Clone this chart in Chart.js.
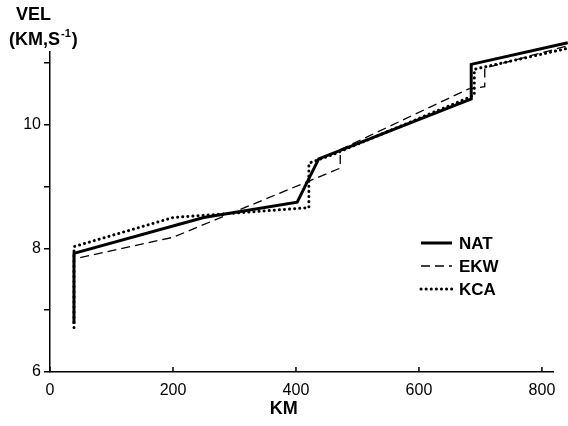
<!DOCTYPE html>
<html>
<head>
<meta charset="utf-8">
<script src="https://cdn.jsdelivr.net/npm/chart.js@4/dist/chart.umd.min.js"></script>
<style>
  html, body { margin: 0; padding: 0; background: #fff; }
  #wrap { width: 568px; height: 426px; }
</style>
</head>
<body>
<div id="wrap"><canvas id="velChart" width="568" height="426"></canvas></div>
<script>
// distance (km) and velocity (km/s)
const natKm  = [39, 39, 250, 402, 437, 685, 685, 842];
const natVel = [6.78, 7.92, 8.5, 8.75, 9.45, 10.42, 10.98, 11.33];
const ekwKm  = [39, 39, 200, 472, 472, 680, 707, 707, 842];
const ekwVel = [6.8, 7.83, 8.18, 9.3, 9.6, 10.58, 10.62, 10.92, 11.28];
const kcaKm  = [39, 39, 200, 421, 421, 460, 690, 690, 842];
const kcaVel = [6.72, 8.03, 8.5, 8.66, 9.38, 9.52, 10.48, 10.9, 11.24];
const xTicks = [0, 200, 400, 600, 800];
const yTicks = [6, 7, 8, 9, 10, 11];
const yLabelled = [6, 8, 10];

const toPts = (xs, ys) => xs.map((x, i) => ({ x: x, y: ys[i] }));

const series = [
  { label: "NAT", data: toPts(natKm, natVel), width: 3, dash: [], cap: "butt" },
  { label: "EKW", data: toPts(ekwKm, ekwVel), width: 1.3, dash: [9, 5], cap: "butt" },
  { label: "KCA", data: toPts(kcaKm, kcaVel), width: 3, dash: [0.1, 5], cap: "round" }
];

const textFont = "'Liberation Sans Narrow', 'Liberation Sans', Arial, sans-serif";

const extras = {
  id: "extras",
  afterDraw(chart) {
    const ctx = chart.ctx;
    const xs = chart.scales.x, ys = chart.scales.y;
    ctx.save();
    // x tick marks point up into the plot
    ctx.strokeStyle = "#000";
    ctx.lineWidth = 1.5;
    xTicks.forEach(v => {
      const px = xs.getPixelForValue(v);
      ctx.beginPath();
      ctx.moveTo(px, ys.bottom);
      ctx.lineTo(px, ys.bottom - 5);
      ctx.stroke();
    });

    // axis titles
    ctx.fillStyle = "#000";
    ctx.font = "bold 18px " + textFont;
    ctx.textAlign = "left";
    ctx.textBaseline = "middle";
    ctx.fillText("VEL", 16, 15);
    let x = 9;
    ctx.fillText("(KM,S", x, 40);
    x += ctx.measureText("(KM,S").width + 1;
    ctx.font = "bold 11px " + textFont;
    ctx.fillText("-1", x, 34);
    x += ctx.measureText("-1").width + 1;
    ctx.font = "bold 18px " + textFont;
    ctx.fillText(")", x, 40);

    ctx.textAlign = "center";
    ctx.fillText("KM", xs.getPixelForValue(380), 409);

    // legend
    const rows = [243, 266, 289];
    series.forEach((s, i) => {
      const y = rows[i];
      ctx.beginPath();
      ctx.lineWidth = s.width;
      ctx.setLineDash(s.dash);
      ctx.lineCap = s.cap;
      ctx.moveTo(421, y);
      ctx.lineTo(452, y);
      ctx.stroke();
      ctx.setLineDash([]);
      ctx.lineCap = "butt";
      ctx.font = "bold 17px " + textFont;
      ctx.textAlign = "left";
      ctx.fillText(s.label, 459, y + 1);
    });
    ctx.restore();
  }
};

const ctx = document.getElementById("velChart").getContext("2d");
new Chart(ctx, {
  type: "line",
  data: {
    datasets: series.map(s => ({
      label: s.label,
      data: s.data,
      borderColor: "#000",
      backgroundColor: "#000",
      borderWidth: s.width,
      borderDash: s.dash,
      borderCapStyle: s.cap,
      borderJoinStyle: "miter",
      pointRadius: 0,
      tension: 0,
      fill: false,
      clip: false
    })).reverse()
  },
  options: {
    responsive: false,
    animation: false,
    layout: { padding: { top: 52, right: 15, left: 0, bottom: 0 } },
    plugins: {
      legend: { display: false },
      tooltip: { enabled: false }
    },
    scales: {
      x: {
        type: "linear",
        min: 0,
        max: 818,
        afterBuildTicks: s => { s.ticks = xTicks.map(v => ({ value: v })); },
        afterFit: s => { s.height = 54; },
        grid: { display: false, drawTicks: false, tickLength: 0 },
        border: { color: "#000", width: 1.5 },
        ticks: {
          padding: 9,
          color: "#000",
          font: { family: "'Liberation Sans', Arial, sans-serif", size: 16 },
          maxRotation: 0
        }
      },
      y: {
        type: "linear",
        min: 6,
        max: 11.18,
        afterBuildTicks: s => { s.ticks = yTicks.map(v => ({ value: v })); },
        afterFit: s => { s.width = 50; },
        grid: { drawOnChartArea: false, drawTicks: true, tickLength: 6, color: "#000", lineWidth: 1.5 },
        border: { color: "#000", width: 1.5 },
        ticks: {
          padding: 3,
          color: "#000",
          font: { family: "'Liberation Sans', Arial, sans-serif", size: 16 },
          callback: v => yLabelled.includes(v) ? String(v) : ""
        }
      }
    }
  },
  plugins: [extras]
});
</script>
</body>
</html>
